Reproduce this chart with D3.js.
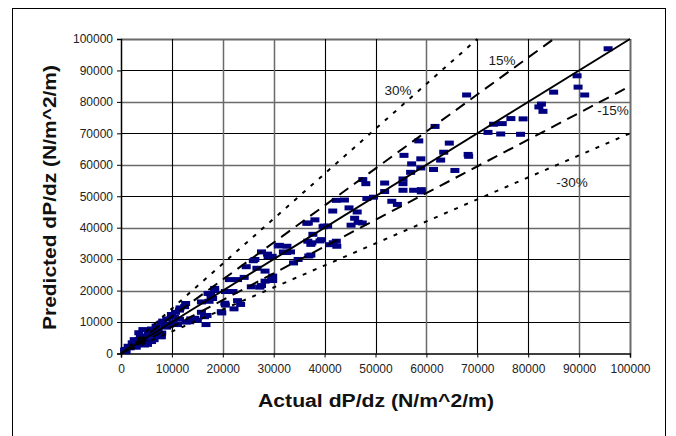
<!DOCTYPE html>
<html>
<head>
<meta charset="utf-8">
<script src="https://cdn.jsdelivr.net/npm/d3@7"></script>
<style>
  html, body { margin: 0; padding: 0; background: #fff; }
  svg { display: block; }
  text { font-family: Arial, "Liberation Sans", sans-serif; }
</style>
</head>
<body>
<svg id="chart" width="676" height="436"></svg>
<script>
// ---- data (values in N/m^2/m) ----
const actual = [
  95700, 89600, 89800, 91100, 85000, 82600, 82100, 82900, 79000, 76600, 74900, 73200, 72100, 74600, 78500,
  67900, 61700, 58500, 64500, 63400, 62800, 68200, 68300, 61400, 65600, 55600, 57100, 56900, 58900, 58900,
  55400, 55400, 55400, 57500, 59000, 59000, 51800, 51800, 49600, 48300, 53200, 54300, 47500, 48100, 42300,
  43900, 41600, 44800, 46400, 45900, 46600, 45200, 47400, 39900, 40600, 36800, 38100, 37700, 37300, 39400,
  36700, 42300, 42400, 41100, 37300, 31100, 32600, 31900, 33300, 34800, 33900, 27600, 29700, 28800, 26300,
  24600, 26700, 28300, 28300, 29800, 29800, 24200, 21300, 22900, 27600, 25600, 18400, 20500, 22000, 17600,
  18000, 17300, 20500, 22900, 23500, 22200, 19800, 15800, 15800, 16900, 16700, 13700, 15000, 12800, 11100,
  12700, 11600, 10700, 9900, 9000, 8200, 9000, 7900, 6900, 7900, 6000, 5600, 4300, 4800, 3500,
  3500, 2200, 2600, 1400, 900, 1800, 5200, 6500, 7100,
  700, 2000, 3300, 4600, 6000, 7300, 8600, 10200, 11500, 12500, 11500, 14500, 13500, 16400, 17100,
  18400, 17700, 19700, 20400, 6000, 4600, 7900, 3000, 4000, 5000, 8000, 9500, 10500, 6500, 2800,
  1000, 3800, 5400, 36500, 39700, 37500, 39100, 41700, 36900, 30900, 32500, 26000, 28900, 29600, 27300
];
const predicted = [
  96900, 88300, 84700, 82200, 83100, 79300, 78400, 77000, 74600, 74700, 73100, 72900, 70300, 69800, 69700,
  82200, 72200, 67600, 66900, 64000, 61500, 63300, 62700, 58500, 58200, 63000, 60300, 57600, 61900, 59000,
  55500, 54000, 51900, 51900, 52100, 51400, 54200, 51500, 49700, 49300, 48400, 47400, 55300, 54000, 48700,
  48800, 45300, 46300, 45000, 43000, 41700, 40800, 41500, 40500, 40500, 41500, 42500, 37900, 34700, 36200,
  35700, 35700, 34100, 34600, 31300, 34400, 34100, 32300, 32300, 29900, 28800, 32300, 30900, 31600, 29900,
  27600, 27100, 26200, 23000, 24600, 23200, 24200, 23500, 23500, 21600, 21200, 20000, 19700, 19700, 19000,
  17500, 16600, 15400, 16800, 15600, 14200, 12900, 16400, 13100, 12100, 9200, 11000, 10600, 10000, 9200,
  15900, 14500, 13100, 12400, 11000, 10300, 8400, 9700, 8700, 5500, 7800, 7100, 7600, 5500, 6600,
  4400, 3400, 4400, 2300, 1300, 1800, 2900, 4400, 5700,
  1100, 2200, 3800, 4800, 5900, 7500, 8700, 9800, 10900, 14900, 13800, 11200, 10100, 11700, 19100,
  20700, 17500, 13300, 16000, 3800, 2700, 5300, 2000, 3200, 4000, 6500, 9000, 11500, 6800, 3000,
  600, 5500, 6200, 41400, 40300, 35200, 35800, 35200, 31000, 34200, 32100, 29500, 30800, 23500, 21100
];
const xTicks = [0, 10000, 20000, 30000, 40000, 50000, 60000, 70000, 80000, 90000, 100000];
const yTicks = [0, 10000, 20000, 30000, 40000, 50000, 60000, 70000, 80000, 90000, 100000];
// error-band lines: predicted = factor * actual
const bandNames = ["30%", "15%", "0", "-15%", "-30%"];
const bandFactors = [1 / 0.7, 1 / 0.85, 1, 0.85, 0.7];

// ---- layout ----
const svg = d3.select("#chart");
const pLeft = 121, pRight = 630, pTop = 39, pBottom = 353.5;
const x = d3.scaleLinear().domain([0, 100000]).range([pLeft, pRight]);
const y = d3.scaleLinear().domain([0, 100000]).range([pBottom, pTop]);

// outer frame
svg.append("rect").attr("x", 12.5).attr("y", 8.5).attr("width", 653).attr("height", 440)
  .attr("fill", "none").attr("stroke", "#000").attr("stroke-width", 1);

// gridlines
const grayV = new Set([20000, 30000, 60000, 90000]);
svg.append("g").selectAll("line").data(yTicks.filter(d => d > 0)).join("line")
  .attr("x1", pLeft).attr("x2", pRight)
  .attr("y1", d => Math.round(y(d)) + 0.5).attr("y2", d => Math.round(y(d)) + 0.5)
  .attr("stroke", d => (d % 20000 === 0 ? "#6a6a6a" : "#000"))
  .attr("stroke-width", d => (d === 100000 ? 2 : (d % 20000 === 0 ? 1.5 : 1.1)));
svg.append("g").selectAll("line").data(xTicks.filter(d => d > 0)).join("line")
  .attr("y1", pTop).attr("y2", pBottom)
  .attr("x1", d => Math.round(x(d)) + 0.5).attr("x2", d => Math.round(x(d)) + 0.5)
  .attr("stroke", d => (d === 100000 || grayV.has(d) ? "#6a6a6a" : "#000"))
  .attr("stroke-width", d => (d === 100000 ? 2 : (grayV.has(d) ? 1.5 : 1.1)));

// axes
const xAxis = d3.axisBottom(x).tickValues(xTicks).tickFormat(d3.format("d")).tickSize(4).tickPadding(7);
const yAxis = d3.axisLeft(y).tickValues(yTicks).tickFormat(d3.format("d")).tickSize(4).tickPadding(4);
const gx = svg.append("g").attr("transform", `translate(0,${pBottom})`).call(xAxis);
const gy = svg.append("g").attr("transform", `translate(${pLeft},0)`).call(yAxis);
[gx, gy].forEach(g => {
  g.select(".domain").attr("stroke", "#000").attr("stroke-width", 1.5);
  g.selectAll(".tick line").attr("stroke", "#000");
  g.selectAll(".tick text").attr("font-size", "12px").attr("fill", "#222")
    .attr("font-family", "Arial, 'Liberation Sans', sans-serif");
});

// markers
svg.append("g").selectAll("rect").data(actual.map((a, i) => [a, predicted[i]])).join("rect")
  .attr("x", d => x(d[0]) - 4.5).attr("y", d => y(d[1]) - 2.5)
  .attr("width", 9).attr("height", 5)
  .attr("fill", "#000080");

// band lines
const dashes = ["4,7", "11,7", null, "11,7", "4,7"];
bandFactors.forEach((f, i) => {
  const xEnd = Math.min(100000, 100000 / f);
  svg.append("line")
    .attr("x1", x(0)).attr("y1", y(0))
    .attr("x2", x(xEnd)).attr("y2", y(xEnd * f))
    .attr("stroke", "#000").attr("stroke-width", 2)
    .attr("stroke-dasharray", dashes[i]);
});

// band labels
const labelPos = { "30%": [398, 95], "15%": [502, 65], "-15%": [613, 115], "-30%": [572, 187] };
bandNames.filter(n => labelPos[n]).forEach(n => {
  svg.append("text").attr("x", labelPos[n][0]).attr("y", labelPos[n][1])
    .attr("text-anchor", "middle").attr("font-size", "13.5px").attr("fill", "#1a1a1a").text(n);
});

// axis titles
svg.append("text").attr("x", 376).attr("y", 407).attr("text-anchor", "middle")
  .attr("font-size", "18px").attr("font-weight", "bold").attr("fill", "#111")
  .attr("textLength", 236).attr("lengthAdjust", "spacingAndGlyphs")
  .text("Actual dP/dz (N/m^2/m)");
svg.append("text").attr("transform", "translate(56,197.5) rotate(-90)").attr("text-anchor", "middle")
  .attr("font-size", "18px").attr("font-weight", "bold").attr("fill", "#111")
  .attr("textLength", 265).attr("lengthAdjust", "spacingAndGlyphs")
  .text("Predicted dP/dz (N/m^2/m)");
</script>
</body>
</html>
